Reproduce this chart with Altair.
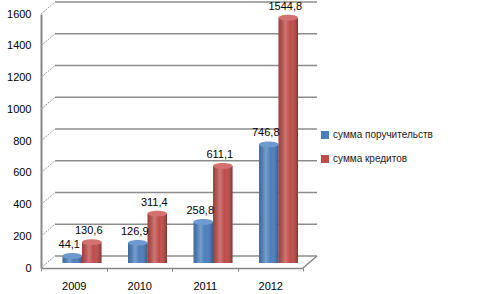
import altair as alt
import pandas as pd

years = ["2009", "2010", "2011", "2012"]
series_names = ["сумма поручительств", "сумма кредитов"]
guarantees = [44.1, 126.9, 258.8, 746.8]
credits = [130.6, 311.4, 611.1, 1544.8]
y_ticks = [0, 200, 400, 600, 800, 1000, 1200, 1400, 1600]

colors = ["#4A7EBB", "#BE4B48"]
top_colors = ["#6E9AD0", "#D2716E"]

rows = []
for i, y in enumerate(years):
    rows.append({"year": y, "series": series_names[0], "value": guarantees[i]})
    rows.append({"year": y, "series": series_names[1], "value": credits[i]})
df = pd.DataFrame(rows)
grid_df = pd.DataFrame({"v": y_ticks})

FONT = "Liberation Sans"
DY = -5

x_enc = alt.X("year:N", sort=years,
              scale=alt.Scale(paddingInner=0, paddingOuter=0),
              axis=alt.Axis(title=None, labelAngle=0, labelFont=FONT, labelFontSize=11,
                            labelColor="#000000", labelPadding=9, tickBand="extent",
                            tickColor="#868686", tickSize=3, domainColor="#868686",
                            domainWidth=1.5, grid=False))
xo_enc = alt.XOffset("series:N", sort=series_names,
                     scale=alt.Scale(range=[21.5, 60.5], paddingInner=0, paddingOuter=0))
y_scale = alt.Scale(domain=[0, 1600], nice=False)
y_axis = alt.Axis(title=None, values=y_ticks, tickCount=9, format="d", labelOverlap=False,
                  labelFlush=False, labelFont=FONT, labelFontSize=11,
                  labelColor="#000000", labelPadding=10, tickSize=0, grid=False,
                  domainColor="#868686", domainWidth=2)


def yv(field):
    return alt.Y(field, scale=y_scale, axis=y_axis)


base = alt.Chart(df)

# back wall gridlines
grid_back = alt.Chart(grid_df).mark_rule(color="#8C8C8C", strokeWidth=1.5, yOffset=-12).encode(
    y=yv("v:Q"), x=alt.value(14), x2=alt.value(276))
grid_diag = alt.Chart(grid_df).mark_rule(color="#9A9A9A", strokeWidth=1, strokeDash=[2, 1],
                                         y2Offset=-12).encode(
    y=yv("v:Q"), y2="v:Q", x=alt.value(0), x2=alt.value(14))
floor_diag = alt.Chart(grid_df).transform_filter("datum.v == 0").mark_rule(
    color="#868686", strokeWidth=1.5, y2Offset=-12).encode(
    y=yv("v:Q"), y2="v:Q", x=alt.value(262), x2=alt.value(276))

bars = base.mark_bar(yOffset=DY, y2Offset=DY).encode(
    x=x_enc, xOffset=xo_enc,
    y=yv("value:Q"),
    color=alt.Color("series:N", sort=series_names,
                    scale=alt.Scale(domain=series_names, range=colors),
                    legend=alt.Legend(title=None, orient="none", legendX=279, legendY=116,
                                      symbolType="square", symbolSize=64, symbolStrokeWidth=0,
                                      labelFont=FONT, labelFontSize=10, labelColor="#222222",
                                      rowPadding=14, labelOffset=3)))

shade = base.mark_bar(yOffset=DY, y2Offset=DY,
                      fill=alt.Gradient(gradient="linear", x1=0, x2=1, y1=0, y2=0,
                                        stops=[alt.GradientStop(color="rgba(0,0,0,0.15)", offset=0),
                                               alt.GradientStop(color="rgba(255,255,255,0.25)", offset=0.35),
                                               alt.GradientStop(color="rgba(255,255,255,0)", offset=0.6),
                                               alt.GradientStop(color="rgba(0,0,0,0.3)", offset=1)])).encode(
    x=x_enc, xOffset=xo_enc, y=yv("value:Q"))

ellipse = "M -1 0 A 1 0.3 0 1 0 1 0 A 1 0.3 0 1 0 -1 0 Z"
tops = base.mark_point(shape=ellipse, size=380, filled=True, opacity=1, strokeWidth=0,
                       yOffset=DY).encode(
    x=x_enc, xOffset=xo_enc, y=yv("value:Q"),
    fill=alt.Fill("series:N", sort=series_names,
                  scale=alt.Scale(domain=series_names, range=top_colors), legend=None))

labels = base.transform_calculate(
    lab="replace(format(datum.value, '.1f'), '.', ',')"
).mark_text(font=FONT, fontSize=11, color="#000000", baseline="bottom",
            dx=-3, yOffset=DY - 6).encode(
    x=x_enc, xOffset=xo_enc, y=yv("value:Q"), text="lab:N")

chart = alt.layer(grid_back, grid_diag, floor_diag, bars, shade, tops, labels).properties(
    width=262, height=254,
    autosize=alt.AutoSizeParams(type="none"),
    padding={"left": 41, "top": 14, "right": 174, "bottom": 26},
    background="#FFFFFF"
).configure_view(stroke=None)

chart.save("out.html", embed_options={"renderer": "svg", "actions": False})
